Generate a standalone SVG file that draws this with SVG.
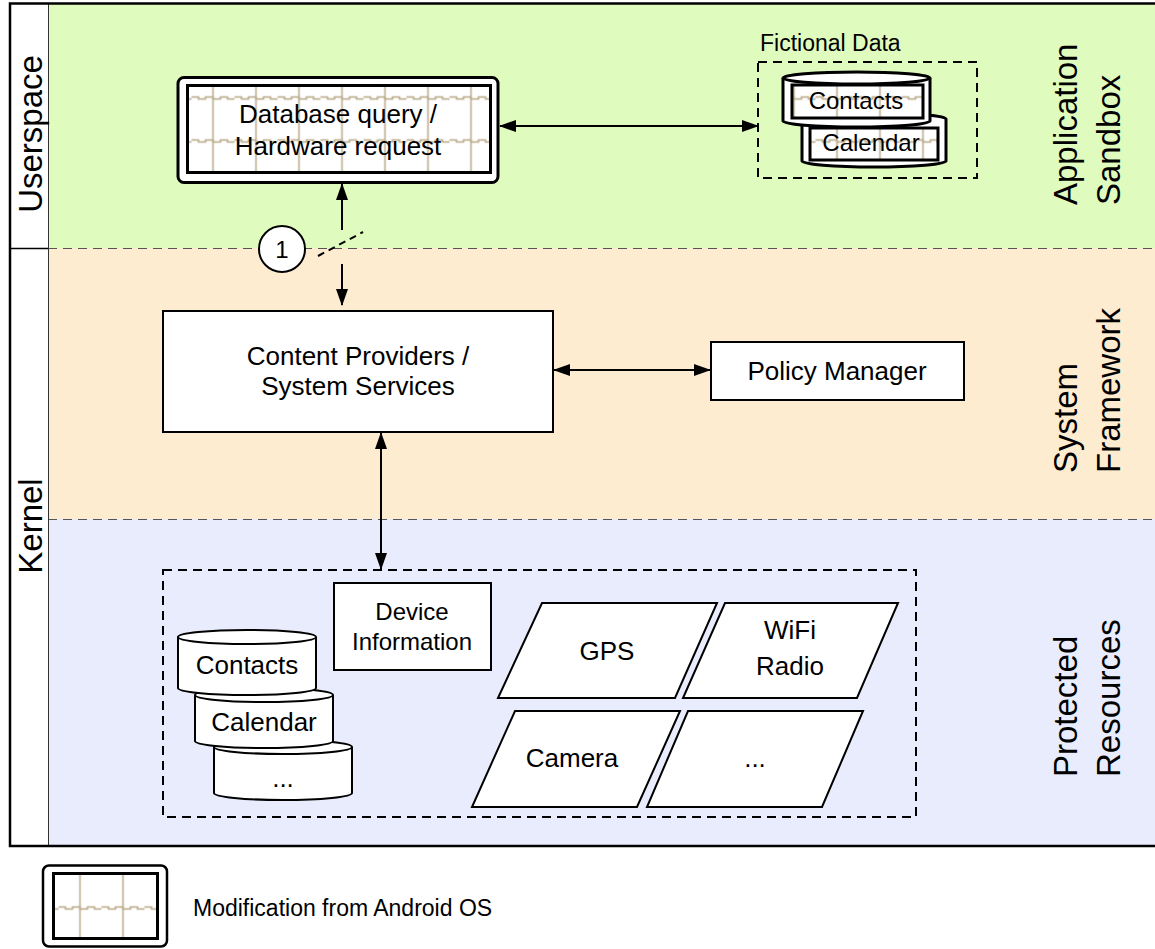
<svg xmlns="http://www.w3.org/2000/svg" xmlns:xlink="http://www.w3.org/1999/xlink" width="1155" height="949" viewBox="0 0 1155 949">
<style>
text{font-family:"Liberation Sans",Arial,sans-serif;fill:#000}
.t26{font-size:26px;text-anchor:middle}
.t24{font-size:24px;text-anchor:middle}
.big{font-size:33px}
.box{fill:#fff;stroke:#000;stroke-width:2}
.thick{stroke:#000;stroke-width:3}
.band{stroke:#555;stroke-width:1.2;stroke-dasharray:9 6;fill:none}
.grp{fill:none;stroke:#000;stroke-width:2;stroke-dasharray:9 6}
.conn{stroke:#000;stroke-width:2;fill:none;marker-start:url(#ah);marker-end:url(#ah)}
.pl{stroke:#b8a886;stroke-width:1.5;fill:none}
</style>
<defs>
<marker id="ah" viewBox="0 0 17 12" refX="16" refY="6" markerWidth="17" markerHeight="12" markerUnits="userSpaceOnUse" orient="auto-start-reverse">
<path d="M0,0 L17,6 L0,12 Z" fill="#000"/>
</marker>
<pattern id="pm" patternUnits="userSpaceOnUse" width="43" height="43" x="191.5" y="76.5">
<rect width="43" height="43" fill="#fff"/>
<path class="pl" d="M21.5,0 V43"/>
<path class="pl" d="M0,20.5 h7 v2 h7 v-2 h7.5 v2 h7.5 v-2 h7 v2 h7"/>
</pattern>
<pattern id="pf" href="#pm" x="-1.5" y="76.5"/>
<pattern id="pl" href="#pm" x="58.5" y="886.5"/>
</defs>

<!-- bands -->
<g id="bands">
<rect x="48" y="3" width="1107" height="245" fill="#e0fbbe"/>
<rect x="48" y="248" width="1107" height="271" fill="#fdecd0"/>
<rect x="48" y="519" width="1107" height="327" fill="#e9ecfc"/>
<rect x="10" y="3" width="38" height="843" fill="#fff"/>
<line class="band" x1="48" y1="248.5" x2="1155" y2="248.5"/>
<line class="band" x1="48" y1="519.5" x2="1155" y2="519.5"/>
<line x1="48.5" y1="3" x2="48.5" y2="846" stroke="#333" stroke-width="1"/>
<line x1="10" y1="248.5" x2="48" y2="248.5" stroke="#000" stroke-width="1.5"/>
<path d="M1155,3.5 H10 V846 H1155" fill="none" stroke="#000" stroke-width="2.5"/>
<text class="big" text-anchor="middle" transform="translate(42,134) rotate(-90)">Userspace</text>
<text class="big" text-anchor="middle" transform="translate(42,526) rotate(-90)">Kernel</text>
<text class="big" transform="translate(1077,205) rotate(-90)">Application</text>
<text class="big" transform="translate(1120,205) rotate(-90)">Sandbox</text>
<text class="big" transform="translate(1077,473) rotate(-90)">System</text>
<text class="big" transform="translate(1120,473) rotate(-90)">Framework</text>
<text class="big" transform="translate(1077,777) rotate(-90)">Protected</text>
<text class="big" transform="translate(1120,777) rotate(-90)">Resources</text>
</g>

<!-- connectors -->
<g id="connectors">
<line class="conn" x1="500" y1="126" x2="758" y2="126"/>
<path d="M342,230 V184" stroke="#000" stroke-width="2" fill="none" marker-end="url(#ah)"/>
<path d="M342,264 V305" stroke="#000" stroke-width="2" fill="none" marker-end="url(#ah)"/>
<line x1="318" y1="256" x2="363" y2="232" stroke="#000" stroke-width="2" stroke-dasharray="7 5"/>
<line class="conn" x1="554" y1="370" x2="710" y2="370"/>
<line class="conn" x1="381" y1="433" x2="381" y2="569"/>
</g>

<g id="db-query">
<rect x="178" y="77.5" width="320" height="105" rx="6" fill="#fff" class="thick"/>
<rect x="187.5" y="85.5" width="303" height="87" fill="url(#pm)" class="thick"/>
<text class="t26" x="338" y="123">Database query /</text>
<text class="t26" x="338" y="155">Hardware request</text>
</g>

<g id="fictional-data">
<rect class="grp" x="758" y="62" width="219" height="116"/>
<text x="760" y="51" style="font-size:23px">Fictional Data</text>
</g>
<g id="fd-calendar">
<path d="M802,119 A72,6 0 0 1 946,119 V161 A72,6 0 0 1 802,161 Z" fill="#fff" class="thick"/>
<rect x="810" y="128" width="128" height="32" fill="url(#pf)" class="thick"/>
<text class="t24" x="871" y="151">Calendar</text>
</g>
<g id="fd-contacts">
<path d="M783,78 A73.5,6 0 0 1 930,78 V121 A73.5,6 0 0 1 783,121 Z" fill="#fff" class="thick"/>
<path d="M783,78 A73.5,6 0 0 0 930,78" fill="none" class="thick"/>
<rect x="792" y="85" width="131" height="33" fill="url(#pf)" class="thick"/>
<text class="t24" x="856" y="109">Contacts</text>
</g>

<g id="marker-1">
<circle cx="282" cy="249" r="23" fill="#fff" stroke="#000" stroke-width="2"/>
<text class="t24" x="282" y="258">1</text>
</g>

<g id="content-providers">
<rect class="box" x="163" y="311" width="390" height="121"/>
<text class="t26" x="358" y="365">Content Providers /</text>
<text class="t26" x="358" y="395">System Services</text>
</g>

<g id="policy-manager">
<rect class="box" x="711" y="342" width="253" height="58"/>
<text class="t26" x="837" y="380">Policy Manager</text>
</g>

<g id="protected-resources">
<rect class="grp" x="163" y="570" width="753" height="247"/>
</g>

<g id="device-information">
<rect class="box" x="334" y="583" width="157" height="87"/>
<text class="t24" x="412" y="620">Device</text>
<text class="t24" x="412" y="650">Information</text>
</g>

<g id="db-more">
<path d="M214,747 A69,7 0 0 1 352,747 V793 A69,7 0 0 1 214,793 Z" class="box"/>
<path d="M214,747 A69,7 0 0 0 352,747" class="box" fill="none"/>
<text class="t26" x="283" y="787">...</text>
</g>
<g id="db-calendar">
<path d="M195,695 A69,7 0 0 1 333,695 V741 A69,7 0 0 1 195,741 Z" class="box"/>
<path d="M195,695 A69,7 0 0 0 333,695" class="box" fill="none"/>
<text class="t26" x="264" y="731">Calendar</text>
</g>
<g id="db-contacts">
<path d="M178,637 A69,7 0 0 1 316,637 V688 A69,7 0 0 1 178,688 Z" class="box"/>
<path d="M178,637 A69,7 0 0 0 316,637" class="box" fill="none"/>
<text class="t26" x="247" y="674">Contacts</text>
</g>

<g id="gps">
<path class="box" d="M542,603 H717 L675,698 H498 Z"/>
<text class="t26" x="607" y="660">GPS</text>
</g>
<g id="wifi">
<path class="box" d="M725,603 H898 L857,698 H683 Z"/>
<text class="t26" x="790" y="639">WiFi</text>
<text class="t26" x="790" y="675">Radio</text>
</g>
<g id="camera">
<path class="box" d="M515,711 H680 L637,807 H472 Z"/>
<text class="t26" x="572" y="767">Camera</text>
</g>
<g id="more">
<path class="box" d="M688,711 H863 L822,807 H647 Z"/>
<text class="t26" x="755" y="767">...</text>
</g>

<g id="legend">
<rect x="43" y="865.5" width="124" height="81" rx="6" fill="#fff" stroke="#000" stroke-width="2.5"/>
<rect x="53.5" y="873.5" width="104" height="65" fill="url(#pl)" class="thick"/>
<text x="193" y="916" style="font-size:23px">Modification from Android OS</text>
</g>
</svg>
